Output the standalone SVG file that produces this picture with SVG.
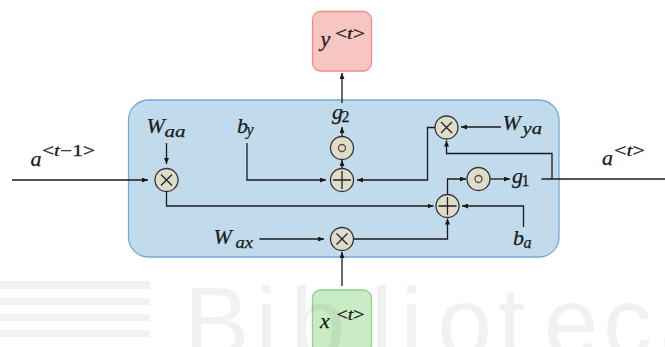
<svg xmlns="http://www.w3.org/2000/svg" width="665" height="347" viewBox="0 0 665 347">
<defs>
<marker id="ah" viewBox="0 0 6 5" refX="6" refY="2.5" markerWidth="6" markerHeight="5" markerUnits="userSpaceOnUse" orient="auto"><path d="M0,0 L6,2.5 L0,5 z" fill="#1a1a1a"/></marker>
</defs>
<style>
.m{font-family:"Liberation Serif","Times New Roman","DejaVu Serif",serif;font-style:italic;font-size:22px;fill:#1a1a1a;stroke:#1a1a1a;stroke-width:0.25}
.s{font-size:16px}
.r{font-style:normal}
.op{fill:#dfdccb;stroke:#333;stroke-width:1.3}
.sym{fill:none;stroke:#222;stroke-width:1.3}
.dot{fill:none;stroke:#5a4e38;stroke-width:1.3}
.c{fill:none;stroke:#1a1a1a;stroke-width:1.3;marker-end:url(#ah)}
.l{fill:none;stroke:#1a1a1a;stroke-width:1.3}
</style>
<rect width="665" height="347" fill="#fff"/>
<g id="cell"><rect x="128.5" y="100" width="430.5" height="157" rx="20" fill="#c1dbec" stroke="#6eaad8" stroke-width="1.3"/></g>
<g id="y_out"><rect x="312.5" y="11.5" width="59" height="59.5" rx="8" fill="#f8c6c2" stroke="#ee8d88" stroke-width="1.3"/>
<text class="m" x="320.5" y="46">y</text><text class="m s" x="335" y="38.5" textLength="30" lengthAdjust="spacingAndGlyphs"><tspan class="r">&lt;</tspan>t<tspan class="r">&gt;</tspan></text></g>
<g id="x_in"><rect x="312.5" y="290" width="59" height="62" rx="8" fill="#c9ecc4" stroke="#8dd486" stroke-width="1.3"/>
<text class="m" x="320" y="328">x</text><text class="m s" x="336.5" y="319.5" textLength="28" lengthAdjust="spacingAndGlyphs"><tspan class="r">&lt;</tspan>t<tspan class="r">&gt;</tspan></text></g>
<g id="connectors">
<path class="c" d="M12,180 H148"/>
<path class="c" d="M166.5,143 V164"/>
<path class="c" d="M166.5,191.5 V206 H433.5"/>
<path class="c" d="M247,143 V180 H326"/>
<path class="c" d="M342,168.5 V160"/>
<path class="c" d="M342,136.5 V127"/>
<path class="c" d="M342,103 V73"/>
<path class="c" d="M435,127.5 H427.5 V180 H357"/>
<path class="c" d="M501,127 H461"/>
<path class="l" d="M541.5,179 H665"/>
<path class="c" d="M552,179 V153.5 H446.5 V140.5"/>
<path class="c" d="M447.5,194.5 V179 H466"/>
<path class="c" d="M490,179 H510"/>
<path class="c" d="M523.5,227 V206 H462"/>
<path class="c" d="M259.5,239 H324"/>
<path class="c" d="M353.5,239 H447.5 V218.5"/>
<path class="c" d="M342,286 V252"/>
</g>
<g id="mul_aa"><circle class="op" cx="166.5" cy="180" r="11.5"/><path class="sym" d="M161,174.5 L172,185.5 M172,174.5 L161,185.5"/></g>
<g id="add_y"><circle class="op" cx="342" cy="180" r="11.5"/><path class="sym" d="M333,180 H351 M342,171 V189"/></g>
<g id="act_y"><circle class="op" cx="342" cy="148" r="11.5"/><circle class="dot" cx="342" cy="148" r="3.5"/></g>
<g id="mul_ya"><circle class="op" cx="446.5" cy="127.5" r="11.5"/><path class="sym" d="M441,122 L452,133 M452,122 L441,133"/></g>
<g id="act_a"><circle class="op" cx="478.5" cy="179" r="11.5"/><circle class="dot" cx="478.5" cy="179" r="3.5"/></g>
<g id="add_a"><circle class="op" cx="447.5" cy="206" r="11.5"/><path class="sym" d="M438.5,206 H456.5 M447.5,197 V215"/></g>
<g id="mul_ax"><circle class="op" cx="342" cy="239" r="11.5"/><path class="sym" d="M336.5,233.5 L347.5,244.5 M347.5,233.5 L336.5,244.5"/></g>
<g id="labels">
<text class="m" x="30.5" y="165.5">a</text><text class="m s" x="42" y="156" textLength="53" lengthAdjust="spacingAndGlyphs"><tspan class="r">&lt;</tspan>t<tspan class="r">−1&gt;</tspan></text>
<text class="m" x="602" y="164.5">a</text><text class="m s" x="614" y="155.5" textLength="31" lengthAdjust="spacingAndGlyphs"><tspan class="r">&lt;</tspan>t<tspan class="r">&gt;</tspan></text>
<text class="m" x="146.5" y="132.5">W</text><text class="m s" x="164.5" y="136.5" textLength="21" lengthAdjust="spacingAndGlyphs">aa</text>
<text class="m" x="237" y="132.5">b</text><text class="m s" x="246.5" y="135">y</text>
<text class="m" x="332" y="119">g</text><text class="m s r" x="341.5" y="122">2</text>
<text class="m" x="502.5" y="130">W</text><text class="m s" x="522.5" y="134" textLength="19.5" lengthAdjust="spacingAndGlyphs">ya</text>
<text class="m" x="512" y="182.5">g</text><text class="m s r" x="521.5" y="185.5">1</text>
<text class="m" x="213.5" y="243.5">W</text><text class="m s" x="235.5" y="247.5" textLength="17.5" lengthAdjust="spacingAndGlyphs">ax</text>
<text class="m" x="513" y="245">b</text><text class="m s" x="523.5" y="248">a</text>
</g>
<g id="watermark" fill="#000" fill-opacity="0.055">
<rect x="0" y="281" width="150" height="8"/><rect x="0" y="298" width="150" height="7"/><rect x="0" y="314" width="150" height="7"/><rect x="0" y="330" width="150" height="7"/>
<text x="184 255.5 290.5 370.5 400.5 437.5 498 544 603 660" y="356" font-family="Liberation Sans, Arial, sans-serif" font-size="98">Biblioteca</text>
</g>
</svg>
